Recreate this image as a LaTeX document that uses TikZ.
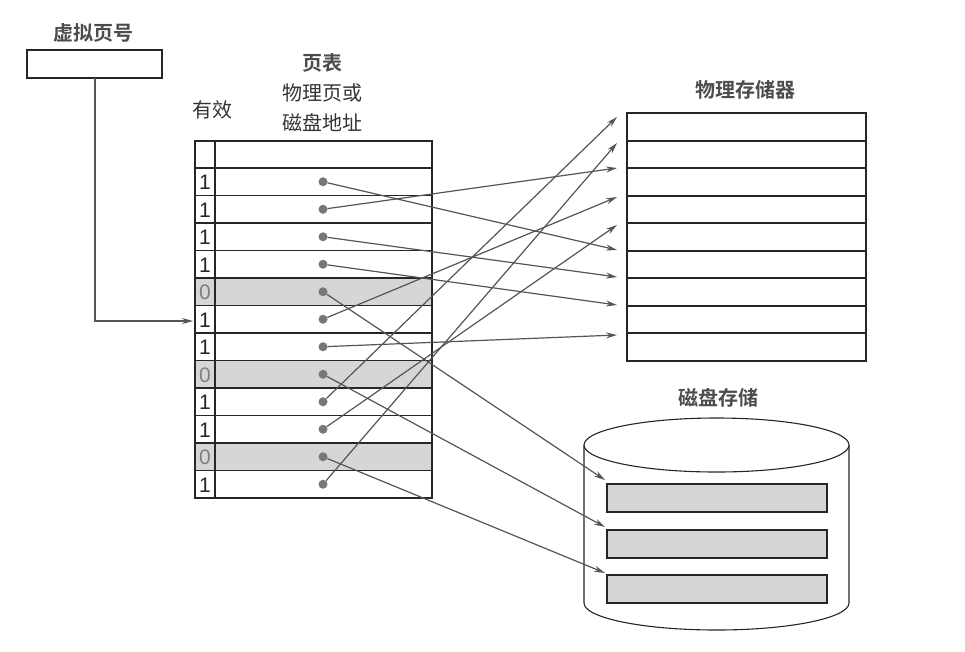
\documentclass[tikz,border=0pt]{standalone}
\usepackage{fontspec}
\setsansfont{Liberation Sans}
\newfontfamily\cjk{Noto Sans CJK SC}
\newfontfamily\cjkb{Noto Sans CJK SC Bold}
\usetikzlibrary{arrows.meta}
\definecolor{greyfill}{HTML}{D6D6D6}
\definecolor{dotc}{HTML}{777777}
\definecolor{arr}{HTML}{555555}
\tikzset{
  box/.style={draw=black!85, line width=1.1pt},
  title/.style={font=\cjkb\fontsize{20}{20}\selectfont, text=black!70},
  lbl/.style={font=\cjk\fontsize{20}{24}\selectfont, text=black!80},
  bit/.style={font=\sffamily\fontsize{21}{21}\selectfont, text=black!85},
  bit0/.style={bit, text=black!50},
  bit1/.style={bit},
  link/.style={draw=arr, line width=1.2pt, -{Stealth[length=11pt,width=6pt]}},
  dot/.style={circle, fill=dotc, inner sep=0pt, minimum size=9pt}
}
\begin{document}
\begin{tikzpicture}[x=1pt,y=-1pt]
\useasboundingbox (0,0) rectangle (965,651);
% virtual page number
\node[title] (vt) at (93,33) {虚拟页号};
\draw[box] (27,50) rectangle (162,78);
\coordinate (vb) at (95,78);
\node[title] (pt) at (322,63) {页表};
\node[lbl] (pl1) at (322,93) {物理页或};
\node[lbl] (pl2) at (322,123) {磁盘地址};
\node[lbl] (valid) at (212,110) {有效};
\node[title] (mt) at (745,90) {物理存储器};
\node[title] (dt) at (718,398) {磁盘存储};
% page table
\foreach \i in {5,8,11}{\fill[greyfill] (195,168+27.5*\i-27.5) rectangle (432,168+27.5*\i);}
\foreach \i/\b in {1/1,2/1,3/1,4/1,5/0,6/1,7/1,8/0,9/1,10/1,11/0,12/1}{
  \pgfmathsetmacro{\rmid}{168+27.5*(\i-1)+13.75}
  \node[bit\b] (b\i) at (205,\rmid+1) {\b};
  \node[dot] (d\i) at (323,\rmid) {};
}
\draw[box] (195,141) rectangle (432,498);
\draw[box] (215,141) -- (215,498);
\foreach \i in {0,...,11}{\draw[box] (195,168+27.5*\i) -- (432,168+27.5*\i);}
\coordinate (tin) at (193,321);
\draw[link] (vb) |- (tin);
% physical memory
\draw[box] (627,113) rectangle (866,361);
\foreach \y in {141,168,196,223,251,278,306,333}{\draw[box] (627,\y) -- (866,\y);}
\foreach \n/\y in {m1/117,m2/143,m3/168,m4/197,m5/225,m6/250,m7/277,m8/305,m9/335}{\coordinate (\n) at (617,\y);}
% disk
\draw[box, fill=white] (584,445) -- (584,603) arc[start angle=180,end angle=0,x radius=132.5,y radius=27] -- (849,445);
\draw[box, fill=white] (716.5,445) ellipse[x radius=132.5,y radius=27];
\foreach \y in {484,530,575}{\draw[box, fill=greyfill] (607,\y) rectangle (827,\y+28);}
\coordinate (k1) at (605,480);
\coordinate (k2) at (605,527);
\coordinate (k3) at (605,573);
% mappings
\draw[link] (d1) -- (m6);
\draw[link] (d2) -- (m3);
\draw[link] (d3) -- (m7);
\draw[link] (d4) -- (m8);
\draw[link] (d5) -- (k1);
\draw[link] (d6) -- (m4);
\draw[link] (d7) -- (m9);
\draw[link] (d8) -- (k2);
\draw[link] (d9) -- (m1);
\draw[link] (d10) -- (m5);
\draw[link] (d11) -- (k3);
\draw[link] (d12) -- (m2);
\end{tikzpicture}
\end{document}
